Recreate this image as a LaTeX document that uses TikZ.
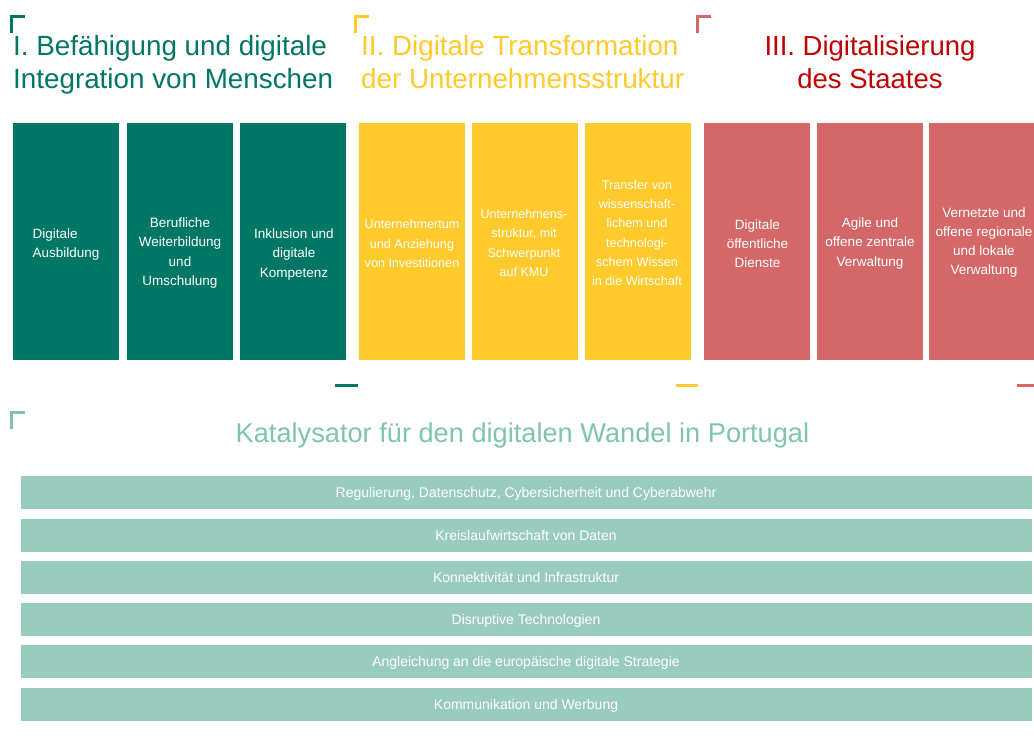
\documentclass[tikz,border=0pt]{standalone}
\usepackage{fontspec}
\setmainfont{Liberation Sans}
\definecolor{dgreen}{HTML}{007664}
\definecolor{tyellow}{HTML}{FFCA2C}
\definecolor{tred}{HTML}{D46868}
\definecolor{redtitle}{HTML}{C00000}
\definecolor{lgreen}{HTML}{99CCBF}
\definecolor{kgreen}{HTML}{80C4AE}
\begin{document}
\begin{tikzpicture}[x=1pt,y=-1pt,
  colbox/.style={minimum width=107pt, minimum height=238pt, inner sep=0pt, draw=white, line width=0.6pt, anchor=north west},
  boxtext/.style={text=white, align=center, inner sep=0pt, font=\fontsize{13.5}{19.3}\selectfont},
  ytext/.style={boxtext, font=\fontsize{12.6}{19.3}\selectfont},
  titletext/.style={inner sep=0pt, font=\fontsize{27.8}{33}\selectfont},
  cornermark/.style={line width=3pt},
  dashmark/.style={line width=3pt},
  bar/.style={fill=lgreen, draw=white, line width=0.6pt, minimum width=1012pt, minimum height=34pt, inner sep=0pt, text height=11.5pt, text depth=1.5pt, text=white, font=\fontsize{14}{16}\selectfont}
]
\useasboundingbox (0,0) rectangle (1034,744);

% corner marks
\draw[cornermark, dgreen] (11.5,33) -- (11.5,16.5) -- (25,16.5);
\draw[cornermark, tyellow] (355.5,33) -- (355.5,16.5) -- (369,16.5);
\draw[cornermark, tred] (697.5,33) -- (697.5,16.5) -- (711,16.5);

% titles
\node[titletext, text=dgreen, anchor=north west, align=left] (t1) at (13,35.5) {I. Befähigung und digitale\\Integration von Menschen};
\node[titletext, text=tyellow, anchor=north west, align=left] (t2) at (361,35.5) {II. Digitale Transformation\\der Unternehmensstruktur};
\node[titletext, text=redtitle, anchor=north, align=center, font=\fontsize{27.5}{33}\selectfont] (t3) at (870,35) {III. Digitalisierung\\des Staates};

% boxes
\node[colbox, fill=dgreen] (g1) at (11.5,122) {};
\node[colbox, fill=dgreen] (g2) at (125.5,122) {};
\node[colbox, fill=dgreen] (g3) at (239,122) {};
\node[colbox, fill=tyellow] (y1) at (358,122) {};
\node[colbox, fill=tyellow] (y2) at (471,122) {};
\node[colbox, fill=tyellow] (y3) at (584,122) {};
\node[colbox, fill=tred] (r1) at (702.5,122) {};
\node[colbox, fill=tred] (r2) at (815.5,122) {};
\node[colbox, fill=tred] (r3) at (928,122) {};

% box texts
\node[boxtext, align=left] (g1t) at (66,244.5) {Digitale\\Ausbildung};
\node[boxtext] (g2t) at (180,253) {Berufliche\\Weiterbildung\\und\\Umschulung};
\node[boxtext] (g3t) at (294,254.5) {Inklusion und\\digitale\\Kompetenz};
\node[ytext] (y1t) at (412,243.5) {Unternehmertum\\und Anziehung\\von Investitionen};
\node[ytext] (y2t) at (524,243) {Unternehmens-\\struktur, mit\\Schwerpunkt\\auf KMU};
\node[ytext] (y3t) at (637,233) {Transfer von\\wissenschaft-\\lichem und\\technologi-\\schem Wissen\\in die Wirtschaft};
\node[boxtext] (r1t) at (757.5,243.5) {Digitale\\öffentliche\\Dienste};
\node[boxtext] (r2t) at (870,243.5) {Agile und\\offene zentrale\\Verwaltung};
\node[boxtext] (r3t) at (984,242.5) {Vernetzte und\\offene regionale\\und lokale\\Verwaltung};

% dash marks
\draw[dashmark, dgreen] (335,385) -- (358,385);
\draw[dashmark, tyellow] (676,385) -- (698,385);
\draw[dashmark, tred] (1017,385) -- (1034,385);

% catalyst section
\draw[cornermark, kgreen] (11.5,429) -- (11.5,412.5) -- (25,412.5);
\node[titletext, text=kgreen, anchor=base, font=\fontsize{27.2}{33}\selectfont] (kt) at (522.5,442) {Katalysator für den digitalen Wandel in Portugal};

\node[bar] (b1) at (526,492.5) {Regulierung, Datenschutz, Cybersicherheit und Cyberabwehr};
\node[bar] (b2) at (526,535) {Kreislaufwirtschaft von Daten};
\node[bar] (b3) at (526,577.5) {Konnektivität und Infrastruktur};
\node[bar] (b4) at (526,619) {Disruptive Technologien};
\node[bar] (b5) at (526,661) {Angleichung an die europäische digitale Strategie};
\node[bar] (b6) at (526,704) {Kommunikation und Werbung};
\end{tikzpicture}
\end{document}
